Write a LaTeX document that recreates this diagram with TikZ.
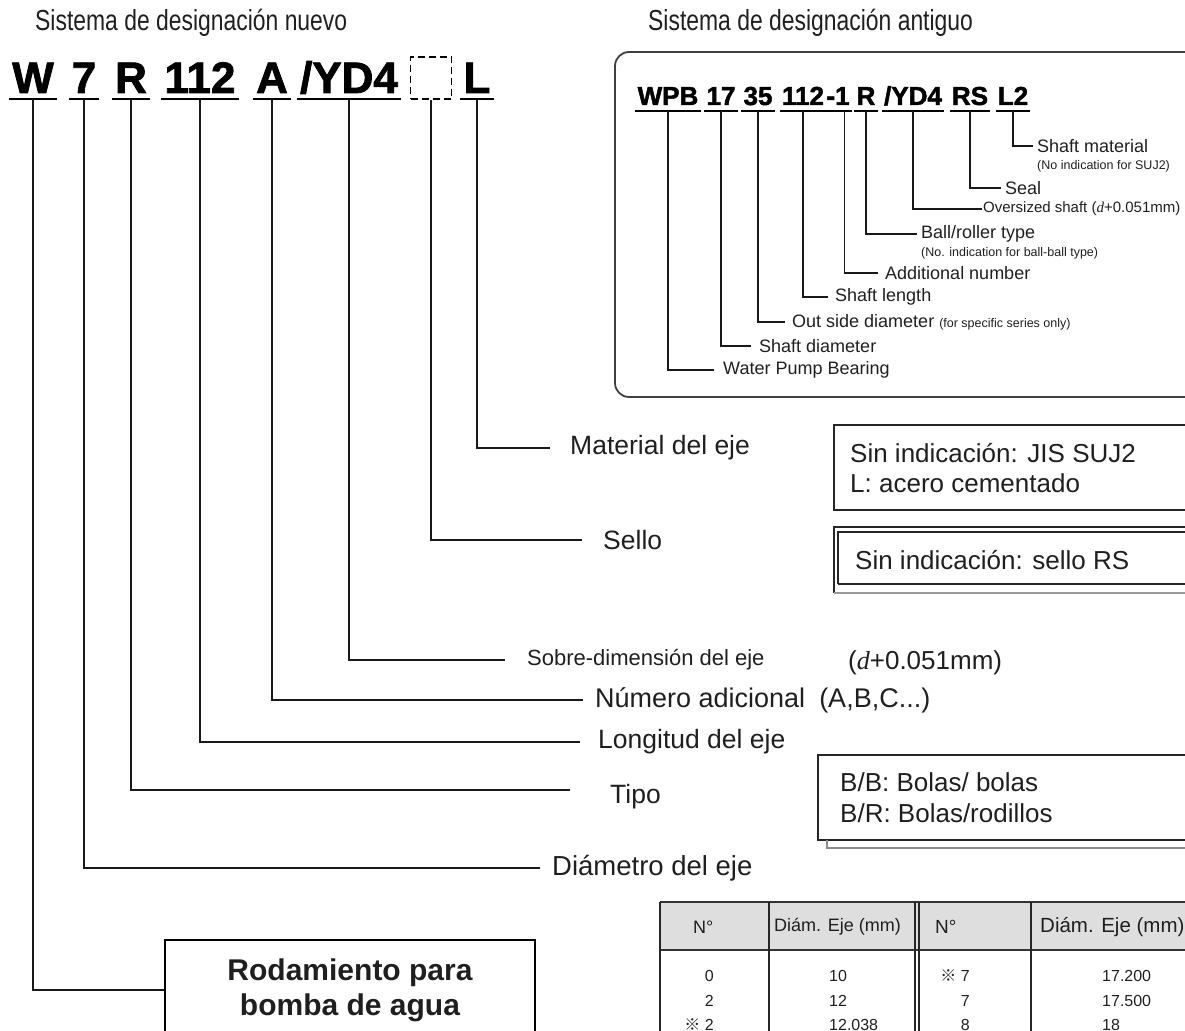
\documentclass[tikz,border=0pt]{standalone}
\usepackage{fontspec}
\setmainfont{Liberation Sans}
\newfontfamily\narrowfont{Liberation Sans}[FakeStretch=0.79]
\newfontfamily\heavyfont{Liberation Sans}[BoldFeatures={FakeBold=1.8}]
\newfontfamily\serifit{Liberation Serif}
\newfontfamily\cjkfont{Noto Sans CJK JP}
\begin{document}
\begin{tikzpicture}[x=1pt,y=-1pt,
  hdr/.style={anchor=west,inner sep=0pt,text=black!88,font=\narrowfont\fontsize{29}{32}\selectfont},
  lbl/.style={anchor=west,inner sep=0pt,text=black!88,font=\fontsize{26.5}{30}\selectfont},
  nc/.style={anchor=base,inner sep=0pt,font=\heavyfont\bfseries\fontsize{44}{44}\selectfont},
  oc/.style={anchor=base,inner sep=0pt,font=\heavyfont\bfseries\fontsize{26}{26}\selectfont},
  ol/.style={anchor=west,inner sep=0pt,text=black!88,font=\fontsize{18}{21}\selectfont},
  os/.style={anchor=west,inner sep=0pt,text=black!88,font=\fontsize{12.5}{15}\selectfont},
  ul/.style={line width=2pt,black},
  oul/.style={line width=1.6pt,black},
  leader/.style={line width=1.2pt,black!90},
  oleader/.style={line width=1.3pt,black!90},
  frame/.style={line width=1.5pt,black!85},
  th/.style={anchor=west,inner sep=0pt,text=black!88},
  td/.style={inner sep=0pt,text=black!88,font=\fontsize{16}{18}\selectfont}
]
\useasboundingbox (0,0) rectangle (1185,1030);

% headers
\node[hdr] (h1) at (35,23) {Sistema de designación nuevo};
\node[hdr] (h2) at (648,23) {Sistema de designación antiguo};

% ---------- new designation code ----------
\node[nc] (nW) at (33,93) {W};
\node[nc] (n7) at (84,93) {7};
\node[nc] (nR) at (131,93) {R};
\node[nc] (n112) at (200,93) {112};
\node[nc] (nA) at (272,93) {A};
\node[nc] (nYD) at (349,93) {/YD4};
\node[draw,dashed,dash pattern=on 7pt off 4pt,line width=1.4pt,minimum width=41pt,minimum height=42pt,inner sep=0pt] (nBox) at (431,78) {};
\node[nc] (nL) at (477,93) {L};
\foreach \n in {nW,n7,nR,n112,nA,nYD,nL}{
  \draw[ul] ([xshift=-3pt,yshift=-6pt]\n.base west) -- ([xshift=3pt,yshift=-6pt]\n.base east);
}

% new labels
\node[lbl] (matl) at (570,448) {Material del eje};
\node[lbl] (sello) at (603,540) {Sello};
\node[lbl,font=\fontsize{22}{26}\selectfont] (sobre) at (527,660) {Sobre-dimensión del eje};
\node[lbl,font=\fontsize{26}{30}\selectfont] (dplus) at (848,663) {({\serifit\itshape d}+0.051mm)};
\node[lbl,font=\fontsize{27}{31}\selectfont] (num) at (595,700) {Número adicional\hspace{14pt}(A,B,C...)};
\node[lbl] (lon) at (598,742) {Longitud del eje};
\node[lbl] (tipo) at (610,797) {Tipo};
\node[lbl,font=\fontsize{27.5}{31}\selectfont] (diam) at (552,868) {Diámetro del eje};
\node[draw,line width=1.3pt,minimum width=370pt,minimum height=100pt,inner sep=0pt,align=center,
      font=\bfseries\fontsize{30}{35}\selectfont,text=black!88] (rod) at (350,990) {Rodamiento para\\bomba de agua};

% new leaders
\draw[leader] ([yshift=-6pt]nL.base) |- ([xshift=-20pt]matl.west);
\draw[leader] (nBox.south) |- ([xshift=-21pt]sello.west);
\draw[leader] ([yshift=-6pt]nYD.base) |- ([xshift=-22pt]sobre.west);
\draw[leader] ([yshift=-6pt]nA.base) |- ([xshift=-12pt]num.west);
\draw[leader] ([yshift=-6pt]n112.base) |- ([xshift=-18pt]lon.west);
\draw[leader] ([yshift=-6pt]nR.base) |- ([xshift=-40pt,yshift=7pt]tipo.west);
\draw[leader] ([yshift=-6pt]n7.base) |- ([xshift=-12pt]diam.west);
\draw[leader] ([yshift=-6pt]nW.base) |- (rod.west);

% right-hand boxes
\draw[frame] (834,425) rectangle (1200,510);
\node[lbl,align=left,font=\fontsize{26}{30}\selectfont] (b1) at (850,468) {Sin indicación: JIS SUJ2\\L: acero cementado};
\draw[frame] (834,593) -- (834,527) -- (1200,527);
\draw[frame] (838,584) -- (838,532) -- (1200,532);
\draw[frame] (838,584) -- (1200,584);
\draw[line width=1.2pt,black!40] (834,593) -- (1200,593);
\node[lbl,font=\fontsize{26}{30}\selectfont] (b2) at (855,560) {Sin indicación: sello RS};
\draw[frame] (818,755) rectangle (1200,840);
\draw[line width=1.2pt,black!45] (827,840) -- (827,848) -- (1200,848);
\node[lbl,align=left,font=\fontsize{26}{31}\selectfont] (b3) at (840,798) {B/B: Bolas/ bolas\\B/R: Bolas/rodillos};

% ---------- old designation system ----------
\draw[line width=1.8pt,black!75,rounded corners=14pt] (615,52) rectangle (1230,397);
\node[oc] (oWPB) at (668,105) {WPB};
\node[oc] (o17) at (721,105) {17};
\node[oc] (o35) at (758,105) {35};
\node[oc] (o112) at (803,105) {112};
\node[oc] (o1) at (838,105) {-1};
\node[oc] (oR) at (866,105) {R};
\node[oc] (oYD) at (913,105) {/YD4};
\node[oc] (oRS) at (970,105) {RS};
\node[oc] (oL2) at (1013,105) {L2};
\foreach \n in {oWPB,o17,o35,oR,oYD,oRS,oL2}{
  \draw[oul] ([xshift=-2pt,yshift=-6pt]\n.base west) -- ([xshift=2pt,yshift=-6pt]\n.base east);
}
\draw[oul] ([xshift=-2pt,yshift=-6pt]o112.base west) -- ([xshift=2pt,yshift=-6pt]o1.base east);

\node[ol] (lL2) at (1037,146) {Shaft material};
\node[os] (lL2b) at (1037,166) {(No indication for SUJ2)};
\node[ol] (lRS) at (1005,188) {Seal};
\node[ol,font=\fontsize{15}{18}\selectfont] (lYD) at (983,209) {Oversized shaft ({\serifit\itshape d}+0.051mm)};
\node[ol] (lR) at (921,234) {Ball/roller type};
\node[os] (lRb) at (921,253) {(No. indication for ball-ball type)};
\node[ol] (l1) at (885,273) {Additional number};
\node[ol] (l112) at (835,297) {Shaft length};
\node[ol] (l35) at (792,322) {Out side diameter {\fontsize{12.5}{15}\selectfont(for specific series only)}};
\node[ol] (l17) at (759,346) {Shaft diameter};
\node[ol] (lWPB) at (723,370) {Water Pump Bearing};

\draw[oleader] ([yshift=-6pt]oL2.base) |- ([xshift=-4pt]lL2.west);
\draw[oleader] ([yshift=-6pt]oRS.base) |- ([xshift=-4pt]lRS.west);
\draw[oleader] ([yshift=-6pt]oYD.base) |- ([xshift=-1pt]lYD.west);
\draw[oleader] ([yshift=-6pt]oR.base) |- ([xshift=-4pt]lR.west);
\draw[oleader] ([xshift=-5pt,yshift=-6pt]o1.base east) |- ([xshift=-7pt]l1.west);
\draw[oleader] ([yshift=-6pt]o112.base) |- ([xshift=-7pt]l112.west);
\draw[oleader] ([yshift=-6pt]o35.base) |- ([xshift=-7pt]l35.west);
\draw[oleader] ([yshift=-6pt]o17.base) |- ([xshift=-8pt]l17.west);
\draw[oleader] ([yshift=-6pt]oWPB.base) |- ([xshift=-9pt]lWPB.west);

% ---------- table ----------
\fill[black!13] (660,902) rectangle (1200,950);
\draw[line width=1.3pt,black!80] (660,902) -- (1200,902);
\draw[line width=1.3pt,black!80] (660,950) -- (1200,950);
\foreach \x in {660,769,915,919,1031}{
  \draw[line width=1.3pt,black!85] (\x,902) -- (\x,1035);
}
\node[th,font=\fontsize{18}{21}\selectfont] (t1) at (693,927) {N°};
\node[th,font=\fontsize{18}{21}\selectfont] (t2) at (774,927) {Diám. Eje (mm)};
\node[th,font=\fontsize{19}{22}\selectfont] (t3) at (935,927) {N°};
\node[th,font=\fontsize{20.5}{24}\selectfont] (t4) at (1040,927) {Diám. Eje (mm)};

\node[td,anchor=east] (r1a) at (714,976) {0};
\node[td,anchor=west] (r1b) at (829,976) {10};
\node[td,anchor=east] (r1c) at (970,976) {{\cjkfont ※}\ 7};
\node[td,anchor=west] (r1d) at (1102,976) {17.200};
\node[td,anchor=east] (r2a) at (714,1001) {2};
\node[td,anchor=west] (r2b) at (829,1001) {12};
\node[td,anchor=east] (r2c) at (970,1001) {7};
\node[td,anchor=west] (r2d) at (1102,1001) {17.500};
\node[td,anchor=east] (r3a) at (714,1025) {{\cjkfont ※}\ 2};
\node[td,anchor=west] (r3b) at (829,1025) {12.038};
\node[td,anchor=east] (r3c) at (970,1025) {8};
\node[td,anchor=west] (r3d) at (1102,1025) {18};
\end{tikzpicture}
\end{document}
